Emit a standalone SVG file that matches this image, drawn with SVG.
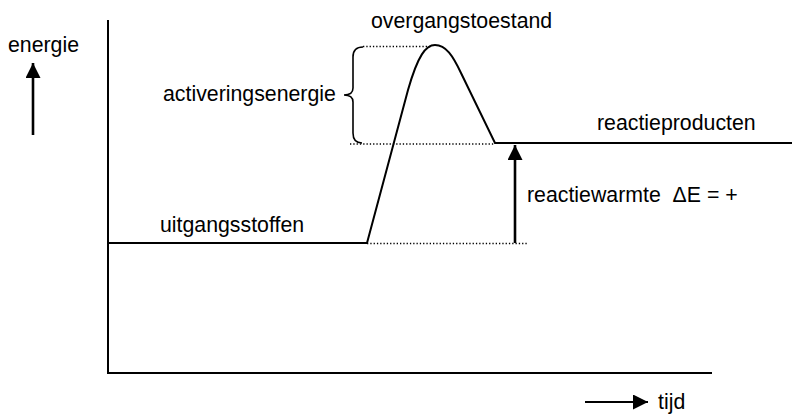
<svg xmlns="http://www.w3.org/2000/svg" width="793" height="414" viewBox="0 0 793 414">
<defs>
<style>
text{font-family:"Liberation Sans",Arial,sans-serif;font-size:21.3px;fill:#000;white-space:pre}
.ln{fill:none;stroke:#000;stroke-width:2}
.dot{fill:none;stroke:#000;stroke-width:1.3;stroke-dasharray:1.3 2}
.arr{fill:none;stroke:#000;stroke-width:2.6;marker-end:url(#ah)}
</style>
<marker id="ah" markerUnits="userSpaceOnUse" markerWidth="16" markerHeight="16" refX="15" refY="7.5" orient="auto" viewBox="0 0 16 16">
<path d="M0,0 L15,7.5 L0,15 z" fill="#000"/>
</marker>
</defs>
<rect width="793" height="414" fill="#fff"/>
<g id="axes">
<path class="ln" d="M108,20 L108,373 L712,373"/>
</g>
<g id="energie">
<text x="8" y="52">energie</text>
</g>
<g id="tijd">
<text x="658" y="409">tijd</text>
</g>
<g id="uitgangsstoffen">
<text x="160" y="232">uitgangsstoffen</text>
</g>
<g id="overgangstoestand">
<text x="371" y="28">overgangstoestand</text>
</g>
<g id="reactieproducten">
<text x="597" y="130">reactieproducten</text>
</g>
<g id="activeringsenergie">
<text x="163" y="101">activeringsenergie</text>
<path class="ln" style="stroke-width:1.6" d="M363,47 Q353,47 353,57 L353,88 Q353,95 344,95 Q353,95 353,102 L353,133 Q353,143 362,143"/>
</g>
<g id="reactiewarmte">
<text x="527" y="202">reactiewarmte  ΔE = +</text>
</g>
<g id="connectors">
<path class="ln" d="M108,243 L367,243 L408,90 C418,55 426,45 435,45 C446,45 453,56 461,73 L495,143 L792,143"/>
<path class="dot" d="M363,46.5 L432,46.5"/>
<path class="dot" d="M350,144 L495,144"/>
<path class="dot" d="M367,243.5 L527,243.5"/>
<path class="arr" d="M33,135 L33,63"/>
<path class="arr" d="M515,243 L515,145"/>
<path class="arr" style="stroke-width:2.2" d="M585,402 L648,402"/>
</g>
</svg>
